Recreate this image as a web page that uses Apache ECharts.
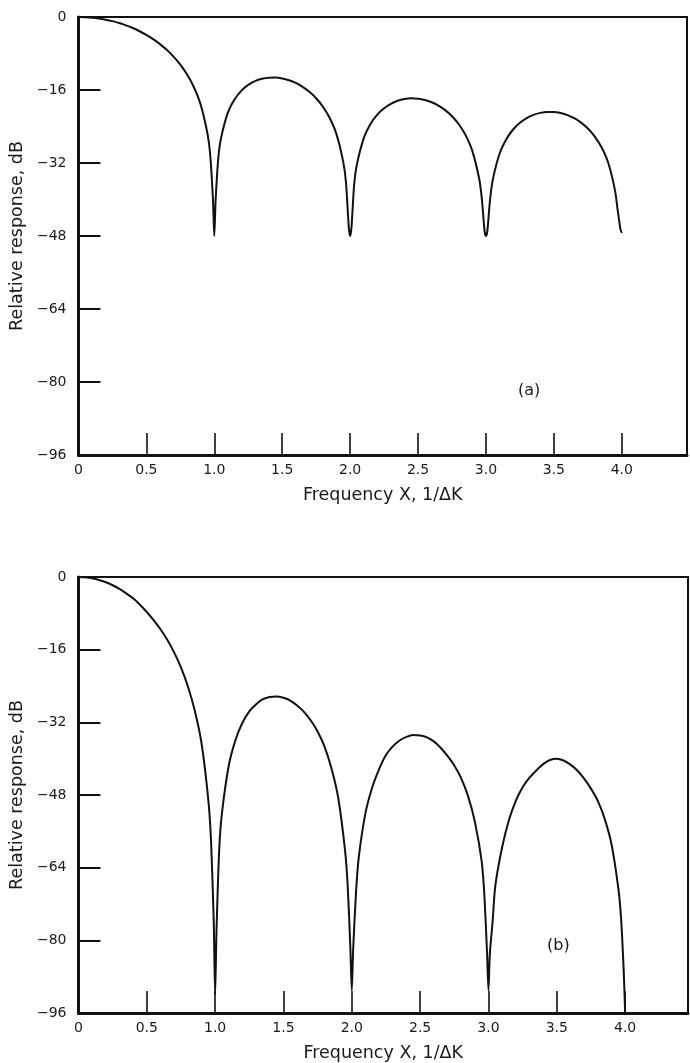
<!DOCTYPE html>
<html>
<head>
<meta charset="utf-8">
<title>Relative response vs frequency</title>
<script src="https://cdn.jsdelivr.net/npm/echarts@6.0.0/dist/echarts.min.js"></script>
<style>
    html, body { margin: 0; padding: 0; background: #fff; }
    #chart { width: 690px; height: 1063px; }
</style>
</head>
<body>
<div id="chart"></div>
<script>
// frequency X, 1/ΔK (denser around the nulls)
var freq = [0,0.05,0.1,0.15,0.2,0.25,0.3,0.35,0.4,0.45,0.5,0.55,0.6,0.65,0.7,0.75,0.8,0.85,0.9,0.95,
    0.97,0.99,1,1.01,1.03,
    1.05,1.1,1.15,1.2,1.25,1.3,1.35,1.4,1.45,1.5,1.55,1.6,1.65,1.7,1.75,1.8,1.85,1.9,1.95,
    1.97,1.99,2,2.01,2.03,
    2.05,2.1,2.15,2.2,2.25,2.3,2.35,2.4,2.45,2.5,2.55,2.6,2.65,2.7,2.75,2.8,2.85,2.9,2.95,
    2.97,2.99,3,3.01,3.03,
    3.05,3.1,3.15,3.2,3.25,3.3,3.35,3.4,3.45,3.5,3.55,3.6,3.65,3.7,3.75,3.8,3.85,3.9,3.95,
    3.97,3.99,4];

// panel (a) relative response, dB
var responseA = [0,-0.04,-0.14,-0.32,-0.58,-0.91,-1.33,-1.83,-2.42,-3.12,-3.92,-4.86,-5.94,-7.2,-8.69,-10.45,-12.62,-15.39,-19.23,-25.6,
    -30.2,-39.9,-48,-40.1,-30.7,
    -26.5,-20.97,-18.02,-16.14,-14.89,-14.06,-13.55,-13.3,-13.28,-13.46,-13.86,-14.46,-15.3,-16.39,-17.81,-19.66,-22.15,-25.72,-31.86,
    -36.4,-46,-48,-46.1,-36.6,
    -32.3,-26.59,-23.45,-21.41,-20,-19.02,-18.37,-17.98,-17.83,-17.9,-18.18,-18.68,-19.41,-20.41,-21.74,-23.5,-25.9,-29.39,-35.45,
    -39.9,-47,-48,-47,-40.1,
    -35.7,-29.97,-26.77,-24.66,-23.19,-22.15,-21.45,-21.01,-20.81,-20.82,-21.06,-21.5,-22.19,-23.15,-24.43,-26.15,-28.51,-31.96,-37.99,
    -42.4,-46.5,-47.3];

// panel (b) relative response, dB
var responseB = [0,-0.07,-0.29,-0.65,-1.16,-1.82,-2.6,-3.6,-4.7,-6.1,-7.7,-9.5,-11.5,-13.8,-16.6,-19.9,-24,-29.3,-36.5,-49,
    -58,-76,-92,-78,-60,
    -52,-41.5,-35.8,-32.1,-29.6,-28,-26.9,-26.4,-26.3,-26.6,-27.2,-28.3,-29.7,-31.6,-34,-37.3,-42,-48.5,-60,
    -68,-82,-91,-82,-70,
    -62,-52,-46.3,-42.3,-39.2,-37.3,-36,-35.2,-34.8,-34.9,-35.3,-36.2,-37.6,-39.4,-41.5,-44.3,-48.2,-53.8,-62.5,
    -70,-83,-91,-83,-76,
    -68,-59.5,-53.5,-49.3,-46.3,-44.2,-42.6,-41.2,-40.3,-40,-40.4,-41.3,-42.6,-44.4,-46.6,-49.3,-53.2,-58.8,-68.5,
    -75,-87,-96];

// tick labels and tick marks
var xLabels = [0,0.5,1,1.5,2,2.5,3,3.5,4];
var xTicks = [0.5,1,1.5,2,2.5,3,3.5,4];
var yLabels = [0,-16,-32,-48,-64,-80,-96];
var yTicks = [-16,-32,-48,-64,-80];

var ink = '#111';
var font = 'DejaVu Sans';

// pair up x and y for a value axis
function pairs(ys){
    return freq.map(function(x, i){ return [x, ys[i]]; });
}

function xAxisFor(idx, max){
    return {
        type: 'value',
        gridIndex: idx,
        min: 0,
        max: max,
        interval: 0.5,
        name: 'Frequency X, 1/\u0394K',
        nameLocation: 'middle',
        nameGap: 31,
        nameTextStyle: { fontFamily: font, fontSize: 17.5, color: '#1a1a1a' },
        axisLine: { show: true, onZero: false, lineStyle: { color: ink, width: 3 } },
        axisTick: { show: true, inside: true, length: 22, customValues: xTicks, lineStyle: { color: ink, width: 1.6 } },
        axisLabel: {
            customValues: xLabels,
            margin: 8,
            fontFamily: font,
            fontSize: 14,
            color: '#1a1a1a',
            formatter: function(v){ return v === 0 ? '0' : v.toFixed(1); }
        },
        splitLine: { show: false }
    };
}

function yAxisFor(idx){
    return {
        type: 'value',
        gridIndex: idx,
        min: -96,
        max: 0,
        interval: 16,
        name: 'Relative response, dB',
        nameLocation: 'middle',
        nameGap: 47,
        nameTextStyle: { fontFamily: font, fontSize: 17.5, color: '#1a1a1a' },
        axisLine: { show: true, onZero: false, lineStyle: { color: ink, width: 3 } },
        axisTick: { show: true, inside: true, length: 22, customValues: yTicks, lineStyle: { color: ink, width: 2 } },
        axisLabel: {
            customValues: yLabels,
            margin: 12,
            fontFamily: font,
            fontSize: 14,
            color: '#1a1a1a',
            formatter: function(v){ return v === 0 ? '0' : '\u2212' + Math.abs(v); }
        },
        splitLine: { show: false }
    };
}

function curve(idx, ys){
    return {
        type: 'line',
        xAxisIndex: idx,
        yAxisIndex: idx,
        data: pairs(ys),
        showSymbol: false,
        symbol: 'none',
        smooth: 0.25,
        clip: true,
        lineStyle: { color: ink, width: 2 },
        emphasis: { disabled: true }
    };
}

var chart = echarts.init(document.getElementById('chart'), null, { renderer: 'canvas' });
chart.setOption({
    animation: false,
    backgroundColor: '#fff',
    grid: [
        { left: 75, top: 17, width: 612, height: 438, show: true, borderColor: ink, borderWidth: 2 },
        { left: 76, top: 577, width: 612, height: 438, show: true, borderColor: ink, borderWidth: 2 }
    ],
    xAxis: [xAxisFor(0, 4.48), xAxisFor(1, 4.46)],
    yAxis: [yAxisFor(0), yAxisFor(1)],
    series: [curve(0, responseA), curve(1, responseB)],
    graphic: [
        { type: 'text', left: 518, top: 383, style: { text: '(a)', font: '16px "DejaVu Sans"', fill: '#1a1a1a' } },
        { type: 'text', left: 547, top: 938, style: { text: '(b)', font: '16px "DejaVu Sans"', fill: '#1a1a1a' } }
    ]
});
</script>
</body>
</html>
